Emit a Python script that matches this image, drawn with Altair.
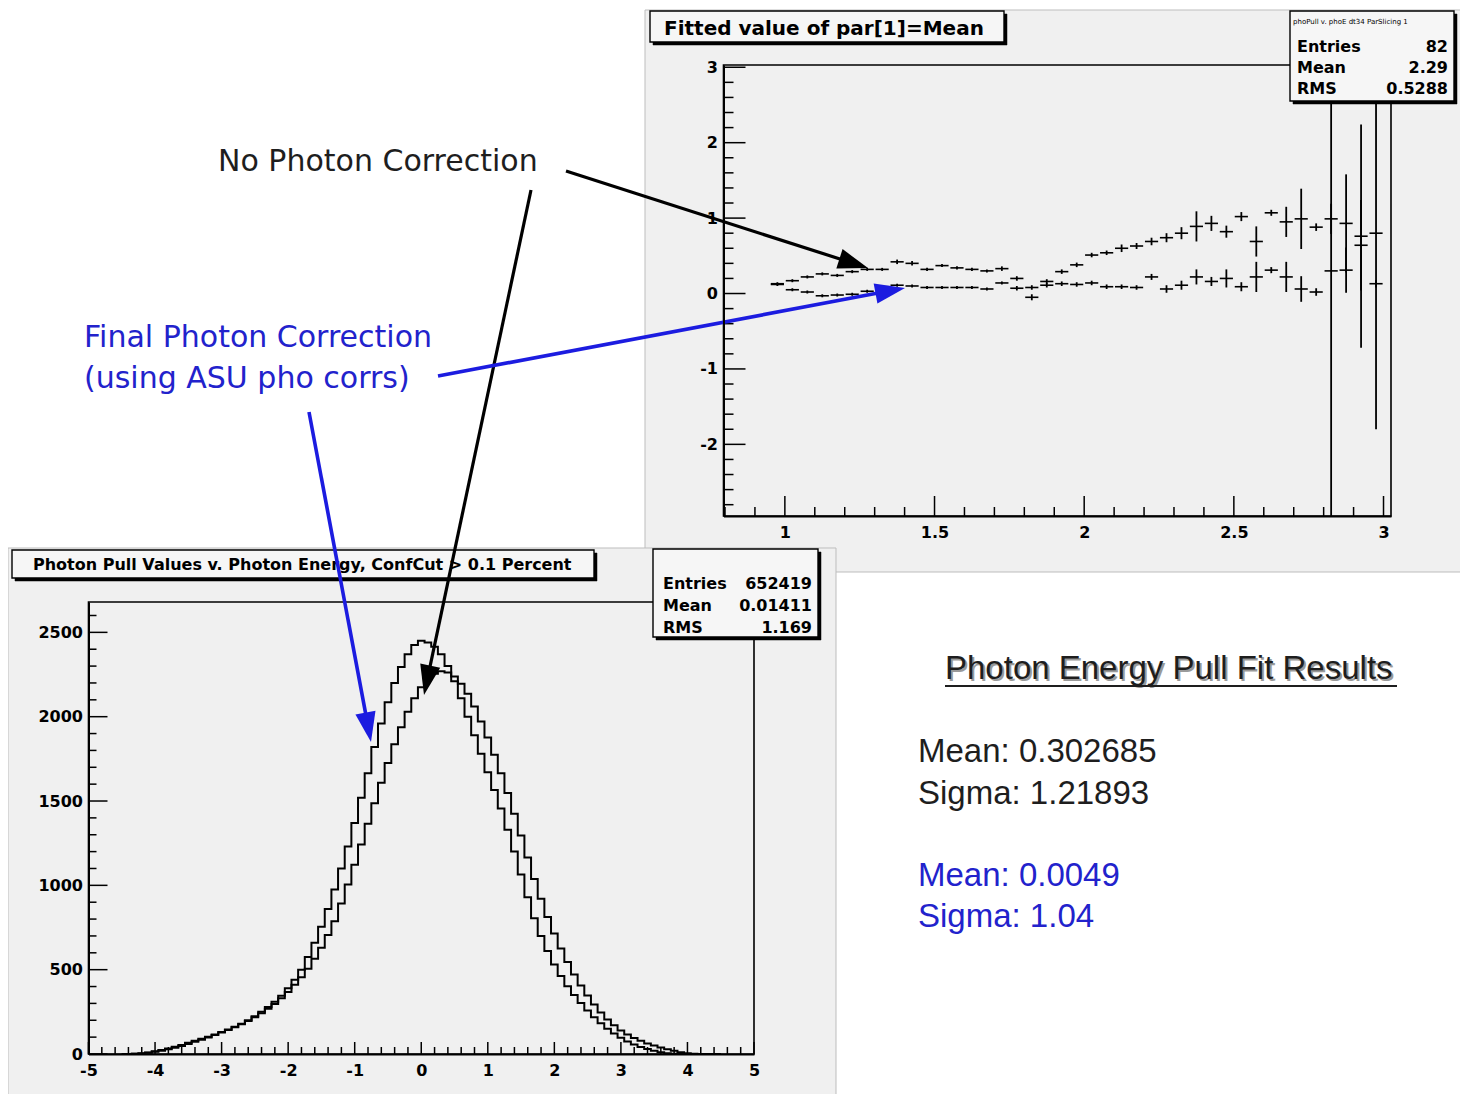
import math
import altair as alt
import pandas as pd

# ---------------- values ----------------
# bottom panel: photon pull histograms (bin centre, entries per bin)
pull_bins = [-4.5, -4.4, -4.3, -4.2, -4.1, -4.0, -3.9, -3.8, -3.7, -3.6,
             -3.5, -3.4, -3.3, -3.2, -3.1, -3.0, -2.9, -2.8, -2.7, -2.6,
             -2.5, -2.4, -2.3, -2.2, -2.1, -2.0, -1.9, -1.8, -1.7, -1.6,
             -1.5, -1.4, -1.3, -1.2, -1.1, -1.0, -0.9, -0.8, -0.7, -0.6,
             -0.5, -0.4, -0.3, -0.2, -0.1, 0.0, 0.1, 0.2, 0.3, 0.4,
             0.5, 0.6, 0.7, 0.8, 0.9, 1.0, 1.1, 1.2, 1.3, 1.4,
             1.5, 1.6, 1.7, 1.8, 1.9, 2.0, 2.1, 2.2, 2.3, 2.4,
             2.5, 2.6, 2.7, 2.8, 2.9, 3.0, 3.1, 3.2, 3.3, 3.4,
             3.5, 3.6, 3.7, 3.8, 3.9, 4.0, 4.1, 4.2, 4.3, 4.4, 4.5]
pull_corrected = [0, 0, 1, 4, 9, 16, 24, 33, 43, 54,
                  66, 78, 91, 103, 116, 130, 146, 162, 180, 200,
                  224, 250, 278, 310, 345, 390, 440, 500, 575, 660,
                  755, 860, 975, 1100, 1230, 1370, 1520, 1665, 1820, 1960,
                  2085, 2200, 2295, 2370, 2425, 2450, 2440, 2415, 2370, 2300,
                  2210, 2110, 2000, 1890, 1780, 1670, 1565, 1455, 1330, 1200,
                  1065, 930, 805, 700, 610, 530, 462, 402, 350, 302,
                  258, 218, 182, 150, 121, 96, 74, 56, 41, 29,
                  19, 11, 5, 2, 0, 0, 0, 0, 0, 0, 0]
pull_uncorrected = [0, 0, 1, 3, 7, 13, 20, 28, 37, 48,
                    60, 72, 85, 98, 112, 127, 142, 158, 176, 196,
                    218, 242, 268, 297, 330, 368, 410, 455, 505, 565,
                    630, 705, 787, 893, 1005, 1122, 1242, 1365, 1487, 1608,
                    1725, 1836, 1938, 2030, 2109, 2174, 2222, 2255, 2269, 2262,
                    2238, 2196, 2136, 2060, 1972, 1876, 1774, 1664, 1548, 1425,
                    1296, 1165, 1038, 920, 812, 714, 626, 545, 472, 406,
                    347, 294, 246, 204, 170, 140, 115, 95, 78, 63,
                    50, 38, 28, 19, 11, 5, 1, 0, 0, 0, 0]

# top panel: fitted mean of the pull per photon-energy slice
slice_centres = [0.975, 1.025, 1.075, 1.125, 1.175, 1.225, 1.275, 1.325, 1.375, 1.425,
                 1.475, 1.525, 1.575, 1.625, 1.675, 1.725, 1.775, 1.825, 1.875, 1.925,
                 1.975, 2.025, 2.075, 2.125, 2.175, 2.225, 2.275, 2.325, 2.375, 2.425,
                 2.475, 2.525, 2.575, 2.625, 2.675, 2.725, 2.775, 2.825, 2.875, 2.925,
                 2.975]
mean_no_corr = [0.13, 0.17, 0.22, 0.26, 0.24, 0.29, 0.32, 0.32, 0.42, 0.40,
                0.32, 0.37, 0.34, 0.32, 0.30, 0.33, 0.20, 0.08, 0.16, 0.29,
                0.38, 0.51, 0.54, 0.60, 0.63, 0.69, 0.74, 0.80, 0.89, 0.93,
                0.82, 1.02, 0.69, 1.07, 0.95, 0.99, 0.88, 0.99, 0.93, 0.76,
                0.80]
err_no_corr = [0.02, 0.02, 0.02, 0.02, 0.02, 0.02, 0.02, 0.02, 0.03, 0.03,
               0.02, 0.02, 0.02, 0.02, 0.02, 0.03, 0.03, 0.03, 0.03, 0.03,
               0.03, 0.03, 0.03, 0.05, 0.04, 0.05, 0.06, 0.08, 0.20, 0.10,
               0.08, 0.06, 0.20, 0.04, 0.20, 0.40, 0.05, 0.20, 0.65, 1.48,
               2.60]
mean_corr = [0.12, 0.05, 0.02, -0.03, -0.02, -0.01, 0.03, 0.09, 0.11, 0.10,
             0.08, 0.08, 0.08, 0.08, 0.06, 0.14, 0.07, -0.05, 0.11, 0.13,
             0.12, 0.14, 0.09, 0.09, 0.08, 0.22, 0.06, 0.11, 0.22, 0.16,
             0.20, 0.09, 0.22, 0.31, 0.22, 0.06, 0.02, 0.30, 0.31, 0.64,
             0.13]
err_corr = [0.02, 0.02, 0.02, 0.02, 0.02, 0.02, 0.02, 0.02, 0.02, 0.02,
            0.02, 0.02, 0.02, 0.02, 0.02, 0.02, 0.03, 0.04, 0.03, 0.03,
            0.03, 0.03, 0.03, 0.03, 0.03, 0.04, 0.05, 0.06, 0.10, 0.06,
            0.12, 0.06, 0.20, 0.04, 0.20, 0.17, 0.05, 3.50, 0.30, 0.60,
            0.05]
slice_half_width = 0.022

# axis tick labels
top_x_labels = [1, 1.5, 2, 2.5, 3]
top_y_labels = [-2, -1, 0, 1, 2, 3]
bot_x_labels = [-5, -4, -3, -2, -1, 0, 1, 2, 3, 4, 5]
bot_y_labels = [0, 500, 1000, 1500, 2000, 2500]

# texts
top_title = "Fitted value of par[1]=Mean"
top_stats_title = "phoPull v. phoE dt34 ParSlicing 1"
top_stats_names = ["Entries", "Mean", "RMS"]
top_stats_values = ["82", "2.29", "0.5288"]
bot_title = "Photon Pull Values v. Photon Energy, ConfCut > 0.1 Percent"
bot_stats_names = ["Entries", "Mean", "RMS"]
bot_stats_values = ["652419", "0.01411", "1.169"]
label_no_corr = "No Photon Correction"
label_final = ["Final Photon Correction", "(using ASU pho corrs)"]
fit_title = "Photon Energy Pull Fit Results"
fit_no_corr = ["Mean: 0.302685", "Sigma: 1.21893"]
fit_corr = ["Mean: 0.0049", "Sigma: 1.04"]

# ---------------- layout / style ----------------
PAGE = 8
CW, CH = 1452, 1086
ROOT_FONT = "DejaVu Sans"
SLIDE_FONT = "Liberation Sans"
PANEL_BG = "#f0f0f0"
BLUE_TXT = "#2222cc"
BLUE_ARROW = "#1c1ce0"

TOP_X_DOM, TOP_X_PIX = [0.795, 3.025], [723.5, 1391]
TOP_Y_DOM, TOP_Y_PIX = [-2.95, 3.03], [516, 65]
BOT_X_DOM, BOT_X_PIX = [-5, 5], [88.5, 754]
BOT_Y_DOM, BOT_Y_PIX = [0, 2680], [1054, 602]

one = pd.DataFrame({"k": [0]})


def c(v):
    return v - PAGE


def sc(dom, pix, clamp=False):
    return alt.Scale(domain=dom, range=[c(p) for p in pix], nice=False, zero=False, clamp=clamp)


def rect(x0, y0, x1, y1, fill, stroke="black", sw=1.0, fill_opacity=1.0):
    return alt.Chart(one).mark_rect(fill=fill, fillOpacity=fill_opacity, stroke=stroke, strokeWidth=sw).encode(
        x=alt.value(c(x0)), x2=alt.value(c(x1)), y=alt.value(c(y0)), y2=alt.value(c(y1)))


def shadow_box(x0, y0, x1, y1, fill):
    return [rect(x0 + 3, y0 + 3, x1 + 3, y1 + 3, "black", "black", 0.5),
            rect(x0, y0, x1, y1, fill, "black", 1.4)]


def text(s, x, y, size, color="black", font=ROOT_FONT, weight="normal", align="left", baseline="alphabetic"):
    return alt.Chart(pd.DataFrame({"t": [s]})).mark_text(
        align=align, baseline=baseline, font=font, fontSize=size, fontWeight=weight, color=color
    ).encode(x=alt.value(c(x)), y=alt.value(c(y)), text="t:N")


def seg(x0, y0, x1, y1, color, width):
    return alt.Chart(one).mark_rule(color=color, strokeWidth=width, strokeCap="butt").encode(
        x=alt.value(c(x0)), y=alt.value(c(y0)), x2=alt.value(c(x1)), y2=alt.value(c(y1)))


HEAD = "M0,0L-0.34,1L0.34,1Z"


def arrow(x0, y0, x1, y1, color, width, length=30):
    dx, dy = x1 - x0, y1 - y0
    d = math.hypot(dx, dy)
    ux, uy = dx / d, dy / d
    ex, ey = x1 - ux * length * 0.6, y1 - uy * length * 0.6
    ang = math.degrees(math.atan2(dx, -dy)) % 360
    head = alt.Chart(one).mark_point(shape=HEAD, size=(2 * length) ** 2, angle=ang, filled=True,
                                     color=color, opacity=1, strokeWidth=0).encode(
        x=alt.value(c(x1)), y=alt.value(c(y1)))
    return [seg(x0, y0, ex, ey, color, width), head]


def axis(orient, offset, values, padding):
    return alt.Axis(orient=orient, offset=offset, values=values, labelExpr="'' + datum.value",
                    ticks=False, tickSize=0, domain=True, domainColor="black", domainWidth=2,
                    grid=False, title=None, labelFont=ROOT_FONT, labelFontWeight="bold",
                    labelFontSize=16, labelColor="black", labelPadding=padding,
                    labelFlush=False, labelOverlap=False, labelBound=False, zindex=1)


def ticks_y(vals, dom, pix, x_page, length):
    return alt.Chart(pd.DataFrame({"v": vals})).mark_rule(color="black", strokeWidth=1.5).encode(
        y=alt.Y("v:Q", scale=sc(dom, pix), axis=None),
        x=alt.value(c(x_page)), x2=alt.value(c(x_page) + length))


def ticks_x(vals, dom, pix, y_page, length):
    return alt.Chart(pd.DataFrame({"v": vals})).mark_rule(color="black", strokeWidth=1.5).encode(
        x=alt.X("v:Q", scale=sc(dom, pix), axis=None),
        y=alt.value(c(y_page)), y2=alt.value(c(y_page) - length))


layers = []

# ================= top panel =================
layers.append(rect(645, 10, 1475, 572, PANEL_BG, "#bdbdbd", 1))
layers.append(rect(TOP_X_PIX[0], TOP_Y_PIX[1], TOP_X_PIX[1], TOP_Y_PIX[0], PANEL_BG, "black", 1.6, 0))

top_y_minor = [v for v in [round(-2.8 + 0.2 * i, 1) for i in range(30)] if abs(v - round(v)) > 1e-6]
top_x_minor = [v for v in [round(0.8 + 0.1 * i, 1) for i in range(23)] if abs(v * 2 - round(v * 2)) > 1e-6]
layers.append(ticks_y(top_y_labels, TOP_Y_DOM, TOP_Y_PIX, TOP_X_PIX[0], 22))
layers.append(ticks_y(top_y_minor, TOP_Y_DOM, TOP_Y_PIX, TOP_X_PIX[0], 10))
layers.append(ticks_x(top_x_labels, TOP_X_DOM, TOP_X_PIX, TOP_Y_PIX[0], 20))
layers.append(ticks_x(top_x_minor, TOP_X_DOM, TOP_X_PIX, TOP_Y_PIX[0], 9))

prof = pd.DataFrame({
    "x": slice_centres + slice_centres,
    "m": mean_no_corr + mean_corr,
    "e": err_no_corr + err_corr,
})
layers.append(
    alt.Chart(prof).transform_calculate(
        xl=f"datum.x - {slice_half_width}", xh=f"datum.x + {slice_half_width}"
    ).mark_rule(color="black", strokeWidth=1.6).encode(
        x=alt.X("xl:Q", scale=sc(TOP_X_DOM, TOP_X_PIX), axis=axis("bottom", c(TOP_Y_PIX[0]) - CH, top_x_labels, 8)),
        x2="xh:Q",
        y=alt.Y("m:Q", scale=sc(TOP_Y_DOM, TOP_Y_PIX), axis=axis("left", -c(TOP_X_PIX[0]), top_y_labels, 6)),
    )
)
layers.append(
    alt.Chart(prof).transform_calculate(
        lo="datum.m - datum.e", hi="datum.m + datum.e"
    ).mark_rule(color="black", strokeWidth=1.8).encode(
        x=alt.X("x:Q", scale=sc(TOP_X_DOM, TOP_X_PIX), axis=None),
        y=alt.Y("lo:Q", scale=sc(TOP_Y_DOM, TOP_Y_PIX, clamp=True), axis=None),
        y2="hi:Q",
    )
)

layers += shadow_box(650, 11, 1004, 42, "#f6f6f6")
layers.append(text(top_title, 664, 35, 20, weight="bold"))
layers += shadow_box(1290, 11, 1454, 101, "#f6f6f6")
layers.append(text(top_stats_title, 1293, 24, 7))
for i, (n, v) in enumerate(zip(top_stats_names, top_stats_values)):
    yy = 52 + 21 * i
    layers.append(text(n, 1297, yy, 16, weight="bold"))
    layers.append(text(v, 1448, yy, 16, weight="bold", align="right"))

# ================= bottom panel =================
layers.append(rect(8, 548, 836, 1110, PANEL_BG, "#bdbdbd", 1))
layers.append(rect(BOT_X_PIX[0], BOT_Y_PIX[1], BOT_X_PIX[1], BOT_Y_PIX[0], PANEL_BG, "black", 1.6, 0))

bot_y_minor = [v for v in range(100, 2700, 100) if v % 500 != 0]
bot_x_minor = [v for v in [round(-4.8 + 0.2 * i, 1) for i in range(49)] if abs(v - round(v)) > 1e-6]
layers.append(ticks_y(bot_y_labels, BOT_Y_DOM, BOT_Y_PIX, BOT_X_PIX[0], 19))
layers.append(ticks_y(bot_y_minor, BOT_Y_DOM, BOT_Y_PIX, BOT_X_PIX[0], 8))
layers.append(ticks_x(bot_x_labels, BOT_X_DOM, BOT_X_PIX, BOT_Y_PIX[0], 12))
layers.append(ticks_x(bot_x_minor, BOT_X_DOM, BOT_X_PIX, BOT_Y_PIX[0], 7))

hist = pd.DataFrame({
    "x": pull_bins + pull_bins,
    "n": pull_corrected + pull_uncorrected,
    "s": ["corrected"] * len(pull_bins) + ["uncorrected"] * len(pull_bins),
})
layers.append(
    alt.Chart(hist).mark_line(interpolate="step", color="black", strokeWidth=2).encode(
        x=alt.X("x:Q", scale=sc(BOT_X_DOM, BOT_X_PIX), axis=axis("bottom", c(BOT_Y_PIX[0]) - CH, bot_x_labels, 8)),
        y=alt.Y("n:Q", scale=sc(BOT_Y_DOM, BOT_Y_PIX), axis=axis("left", -c(BOT_X_PIX[0]), bot_y_labels, 6)),
        detail="s:N",
    )
)

layers += shadow_box(12, 550, 594, 578, "#f6f6f6")
layers.append(text(bot_title, 33, 570, 16, weight="bold"))
layers += shadow_box(653, 549, 818, 637, "#f6f6f6")
for i, (n, v) in enumerate(zip(bot_stats_names, bot_stats_values)):
    yy = 589 + 22 * i
    layers.append(text(n, 663, yy, 16, weight="bold"))
    layers.append(text(v, 812, yy, 16, weight="bold", align="right"))

# ================= slide annotations =================
layers.append(text(label_no_corr, 218, 171, 30, color="#1e1e1e"))
layers.append(text(label_final[0], 84, 347, 30, color=BLUE_TXT))
layers.append(text(label_final[1], 84, 388, 30, color=BLUE_TXT))

layers.append(text(fit_title, 947, 681, 33, color="#9a9a9a", font=SLIDE_FONT))
layers.append(text(fit_title, 945, 679, 33, color="#1e1e1e", font=SLIDE_FONT))
layers.append(seg(945, 686, 1397, 686, "#1e1e1e", 2))
layers.append(text(fit_no_corr[0], 918, 762, 33, color="#1e1e1e", font=SLIDE_FONT))
layers.append(text(fit_no_corr[1], 918, 804, 33, color="#1e1e1e", font=SLIDE_FONT))
layers.append(text(fit_corr[0], 918, 886, 33, color=BLUE_TXT, font=SLIDE_FONT))
layers.append(text(fit_corr[1], 918, 927, 33, color=BLUE_TXT, font=SLIDE_FONT))

layers += arrow(566, 171, 868, 268, "black", 3.2)
layers += arrow(531, 190, 424, 695, "black", 3.2)
layers += arrow(438, 376, 905, 288, BLUE_ARROW, 3.6)
layers += arrow(309, 412, 371, 742, BLUE_ARROW, 3.6)

chart = alt.layer(*layers).resolve_scale(
    x="independent", y="independent"
).properties(
    width=CW, height=CH, padding=0, background="white",
    autosize=alt.AutoSizeParams(type="none"),
).configure_view(strokeOpacity=0)

chart.save("out.html", embed_options={"renderer": "svg", "actions": False})
